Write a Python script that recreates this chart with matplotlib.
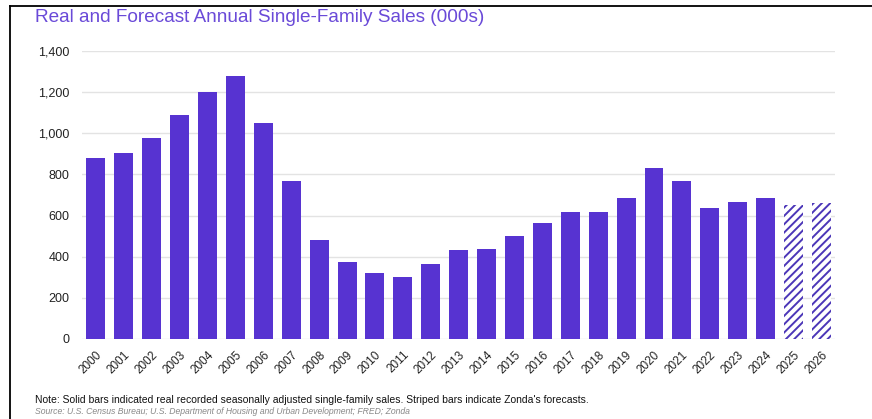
import numpy as np
import matplotlib
matplotlib.use("Agg")
from matplotlib import pyplot as plt
from matplotlib.lines import Line2D

# annual single-family sales (000s)
years = [str(y) for y in range(2000, 2027)]
sales = [880, 905, 977, 1089, 1201, 1279, 1050, 766, 480, 372,
         321, 303, 366, 431, 440, 501, 563, 616, 616, 687,
         831, 768, 638, 666, 688, 652, 662]
forecast = [False] * 25 + [True, True]

purple = '#5733d1'
stripe = '#4b36b8'
title_purple = '#6a4ad8'

plt.rcParams['font.family'] = ['Liberation Sans', 'DejaVu Sans']
plt.rcParams['hatch.linewidth'] = 1.4

fig = plt.figure(figsize=(8.72, 4.19), dpi=100)
ax = fig.add_axes([0.094, 0.191, 0.864, 0.687])

x = np.arange(len(years))
for i in range(len(years)):
    if forecast[i]:
        ax.bar(x[i], sales[i], width=0.68, color='white', edgecolor=stripe,
               hatch='////', linewidth=0, zorder=3)
    else:
        ax.bar(x[i], sales[i], width=0.68, color=purple, linewidth=0, zorder=3)

ax.set_xlim(-0.5, len(years) - 0.5)
ax.set_ylim(0, 1400)
ax.set_yticks(range(0, 1401, 200))
ax.set_yticklabels(['{:,}'.format(v) for v in range(0, 1401, 200)],
                   fontsize=9, color='#222222')
ax.set_xticks(x)
ax.set_xticklabels(years, rotation=45, ha='right', rotation_mode='anchor',
                   fontsize=8.5, color='#222222')
ax.tick_params(axis='both', length=0)
ax.tick_params(axis='y', pad=9)
ax.tick_params(axis='x', pad=7)
ax.grid(axis='y', color='#e3e3e3', linewidth=1, zorder=0)
for s in ax.spines.values():
    s.set_visible(False)

fig.text(35 / 872, 1 - 18 / 419, 'Real and Forecast Annual Single-Family Sales (000s)',
         fontsize=13.7, color=title_purple, va='center', ha='left')
fig.text(35 / 872, 1 - 400 / 419,
         "Note: Solid bars indicated real recorded seasonally adjusted single-family sales. "
         "Striped bars indicate Zonda's forecasts.",
         fontsize=7.5, color='#111111', va='center', ha='left')
fig.text(35 / 872, 1 - 411 / 419,
         'Source: U.S. Census Bureau; U.S. Department of Housing and Urban Development; FRED; Zonda',
         fontsize=6.2, color='#888888', style='italic', va='center', ha='left')

# frame lines on the left and top
fig.add_artist(Line2D([10 / 872, 10 / 872], [0, 1 - 6 / 419], color='black', linewidth=1.3))
fig.add_artist(Line2D([10 / 872, 1], [1 - 6 / 419, 1 - 6 / 419], color='black', linewidth=1.3))

fig.savefig('out.png', dpi=100)
